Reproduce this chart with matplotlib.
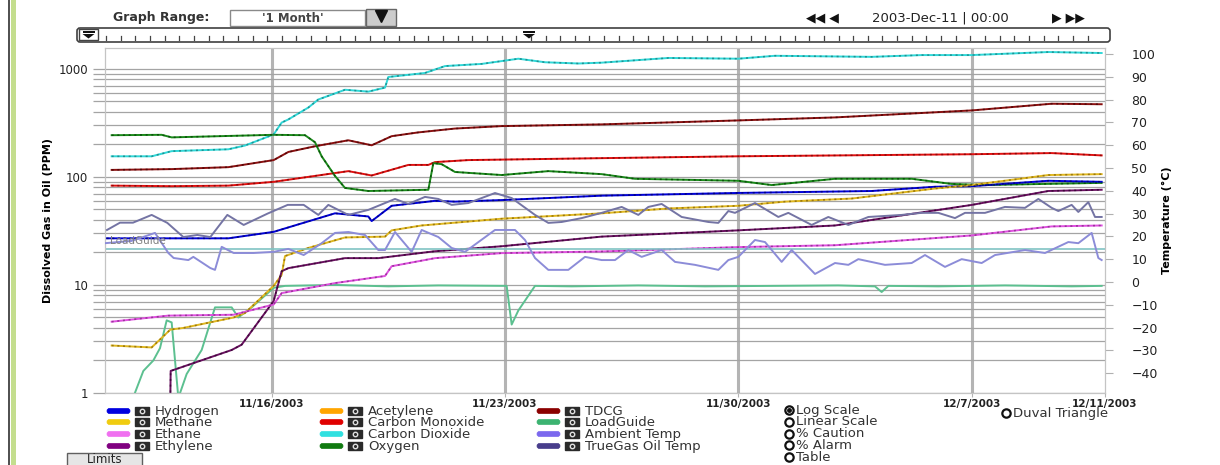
import matplotlib
import matplotlib.pyplot as plt
from matplotlib.patches import Rectangle, FancyBboxPatch, Polygon
from matplotlib.ticker import LogLocator, NullFormatter
import numpy as np

matplotlib.use('Agg')
plt.rcParams['font.family'] = ['DejaVu Sans']

W, H = 1220, 465

# ---- data (days since 11/11/2003 00:00) ----
co2_days = [0.2, 1.4, 2.0, 3.7, 4.2, 5.06, 5.3, 5.5, 6.1, 6.4, 7.2, 7.9, 8.4, 8.5, 9.6, 10.2,
            11.3, 12.4, 13.2, 14.2, 14.9, 16.9, 19.0, 20.1, 23.0, 24.5, 26.0, 28.3, 29.9]
co2_ppm = [155, 155, 173, 180, 195, 247, 318, 340, 438, 520, 640, 615, 670, 840, 915, 1060,
           1110, 1240, 1150, 1120, 1140, 1260, 1240, 1320, 1290, 1340, 1340, 1430, 1400]

tdcg_days = [0.2, 2.0, 3.7, 5.06, 5.5, 6.3, 7.3, 8.0, 8.6, 9.4, 10.5, 11.9, 14.9, 19.0, 21.9,
             26.0, 28.4, 29.9]
tdcg_ppm = [116, 118, 123, 143, 170, 192, 218, 196, 238, 258, 280, 295, 306, 333, 355, 412, 475, 470]

co_days = [0.2, 2.0, 3.7, 5.06, 6.1, 7.3, 8.0, 9.1, 9.7, 9.9, 10.9, 14.9, 19.0, 26.0, 28.4, 29.9]
co_ppm = [83, 82, 83, 90, 100, 113, 103, 129, 129, 137, 143, 149, 155, 162, 166, 158]

o2_days = [0.2, 1.7, 2.0, 5.06, 6.0, 6.3, 6.5, 6.9, 7.2, 7.9, 9.7, 9.85, 10.1, 10.5, 11.9, 13.3,
           14.9, 15.9, 19.0, 20.0, 21.9, 24.2, 25.4, 26.4, 29.9]
o2_ppm = [243, 245, 232, 245, 243, 209, 155, 102, 79, 74, 76, 134, 131, 111, 104, 113,
          106, 96, 92, 84, 96, 96, 86, 84, 88]

h2_days = [0.05, 3.7, 5.06, 6.9, 7.9, 8.0, 8.6, 9.9, 10.5, 11.9, 14.9, 19.0, 23.0, 24.9, 26.0,
           28.3, 29.9]
h2_ppm = [27, 27, 31, 46, 43, 39, 54, 60, 59, 61, 67, 71, 74, 81, 82, 92, 90]

ch4_days = [0.2, 1.4, 1.96, 2.35, 3.86, 4.2, 5.06, 5.3, 5.4, 6.1, 7.2, 8.4, 8.6, 9.5, 10.9, 11.9,
            14.9, 16.9, 19.0, 20.4, 22.4, 24.9, 26.0, 28.3, 29.9]
ch4_ppm = [2.75, 2.64, 3.86, 4.0, 5.0, 5.5, 9.8, 12.4, 18.5, 22, 27.5, 28, 32, 35.5, 38.6, 41,
           46, 51, 54, 59, 63, 78, 84, 104, 106]

c2h4_days = [1.96, 1.97, 3.8, 4.1, 5.06, 5.3, 5.5, 7.2, 8.2, 9.9, 11.9, 14.9, 19.0, 21.9, 23.9,
             26.0, 28.3, 29.9]
c2h4_ppm = [0.9, 1.6, 2.5, 2.8, 7.1, 13.4, 14.3, 17.7, 17.7, 20.5, 22.8, 28, 32, 35.5, 44,
            55, 74, 76]

c2h6_days = [0.2, 1.9, 3.86, 5.06, 5.3, 6.9, 8.4, 8.6, 9.9, 11.9, 14.9, 19.0, 21.9, 26.0, 28.4, 29.9]
c2h6_ppm = [4.57, 5.2, 5.3, 6.6, 8.4, 10.4, 12.1, 14.9, 17.7, 19.7, 20.4, 22.4, 23.3, 28.7, 34.8, 35.5]

lg_days = [0, 0.84, 1.15, 1.45, 1.65, 1.85, 2.0, 2.2, 2.45, 2.9, 3.3, 3.8, 4.0, 4.4, 5.06, 5.4,
           6.9, 8.5, 10, 12.05, 12.2, 12.4, 12.9, 14, 16, 18, 20, 22, 23.1, 23.3, 23.5, 25, 27,
           29, 29.9]
lg_ppm = [0.9, 0.9, 1.6, 2.0, 2.6, 4.7, 4.5, 0.9, 1.5, 2.5, 6.2, 6.2, 5.0, 6.2, 9.4, 9.8,
          10, 9.7, 9.9, 9.8, 4.3, 5.8, 9.8, 9.7, 9.9, 9.7, 9.8, 9.9, 9.7, 8.6, 9.8, 9.7, 9.9,
          9.7, 9.8]

oil_days = [0.06, 0.45, 0.84, 1.4, 1.87, 2.35, 2.77, 3.16, 3.67, 4.16, 4.88, 5.48, 5.96, 6.4,
            6.7, 7.3, 7.9, 8.7, 9.1, 9.6, 10.0, 10.4, 10.9, 11.7, 12.2, 12.9, 13.3, 13.7, 14.3,
            14.9, 15.5, 16.0, 16.3, 16.7, 17.3, 18.1, 18.4, 18.7, 18.9, 19.5, 20.2, 20.5, 21.2,
            21.7, 22.3, 22.9, 23.9, 24.5, 25.0, 25.5, 25.8, 26.4, 27.0, 27.6, 28.0, 28.4, 28.6,
            29.0, 29.2, 29.5, 29.7, 29.9]
oil_temp = [22.8, 26, 26, 29.4, 25.9, 19.7, 20.6, 19.7, 29.4, 25, 30, 33.8, 33.8, 29.4,
            33.8, 29.4, 31.6, 36.4, 34.2, 37.3, 36.4, 33.8, 34.6, 39, 36.8, 29.4, 25.9, 26.3, 28,
            30.3, 32.9, 29.4, 32.9, 34.2, 28.5, 26.3, 25.9, 31.1, 30.3, 34.6, 28.5, 30.3, 25,
            28.5, 25, 28.5, 29.4, 30.3, 30.3, 28, 30.3, 30.3, 32.9, 32.5, 36.4, 32.5, 31.1,
            33.8, 30.7, 35, 28.5, 28.5]

amb_days = [0, 0.8, 1.5, 1.9, 2.06, 2.5, 2.65, 3.16, 3.3, 3.5, 3.86, 4.46, 5.06, 5.5, 5.96,
            6.5, 6.9, 7.3, 7.8, 8.2, 8.4, 8.7, 9.2, 9.5, 10.0, 10.4, 10.8, 11.7, 12.3, 12.6,
            12.9, 13.3, 13.9, 14.4, 14.9, 15.3, 15.7, 16.1, 16.7, 17.1, 17.7, 18.4, 18.7, 19.0,
            19.5, 19.8, 20.3, 20.6, 21.3, 21.9, 22.3, 22.6, 23.4, 24.2, 24.6, 25.2, 25.7, 26.3,
            26.7, 27.6, 28.2, 28.9, 29.2, 29.6, 29.8, 29.9]
amb_temp = [17, 18, 21.5, 12.7, 10.5, 9.6, 11, 6.1, 5.3, 15.4, 12.7, 12.7, 13.2, 14.5, 11.8,
            17, 21.5, 21.9, 20.6, 14, 14, 21.9, 13.2, 22.8, 19.7, 14.9, 13.2, 22.8, 22.8, 18.4,
            10.5, 5.3, 5.3, 11, 9.6, 9.6, 14, 11, 14, 8.8, 7.5, 5.3, 9.6, 11, 18.4,
            17.5, 8.8, 14, 3.5, 8.3, 7.5, 10, 7.5, 8.3, 11.8, 6.6, 10, 8.3, 11.8, 14,
            12.7, 17.5, 17, 21.5, 10.5, 9.6]

loadguide_limit = 14.5

date_ticks = [5, 12, 19, 26, 30]
date_labels = ["11/16/2003", "11/23/2003", "11/30/2003", "12/7/2003", "12/11/2003"]

legend_cols = [["Hydrogen", "Methane", "Ethane", "Ethylene"],
               ["Acetylene", "Carbon Monoxide", "Carbon Dioxide", "Oxygen"],
               ["TDCG", "LoadGuide", "Ambient Temp", "TrueGas Oil Temp"]]
legend_colors = [["#0000e0", "#f0cc10", "#f070f0", "#800080"],
                 ["#ffa500", "#e00000", "#30e0e0", "#107a10"],
                 ["#8b0000", "#3cb371", "#7b68ee", "#483d8b"]]
radio_labels = ["Log Scale", "Linear Scale", "% Caution", "% Alarm", "Table"]

# ---- figure ----
fig = plt.figure(figsize=(W / 100, H / 100), dpi=100)

ui = fig.add_axes([0, 0, 1, 1], zorder=-1)
ui.set_xlim(0, W)
ui.set_ylim(H, 0)
ui.axis('off')

ax = fig.add_axes([105 / W, 1 - 393 / H, 1000 / W, 345 / H])
ax2 = ax.twinx()

gas_lines = [
    (co2_days, co2_ppm, "#30d8d8", "#106868"),
    (tdcg_days, tdcg_ppm, "#8b1010", "#300000"),
    (co_days, co_ppm, "#e01010", "#600000"),
    (o2_days, o2_ppm, "#1a8a1a", "#003000"),
    (h2_days, h2_ppm, "#0000d8", "#000050"),
    (ch4_days, ch4_ppm, "#e0b820", "#705000"),
    (c2h4_days, c2h4_ppm, "#6a1060", "#200020"),
    (c2h6_days, c2h6_ppm, "#e050e0", "#702070"),
]
ax.plot(lg_days, lg_ppm, color="#5cc090", lw=1.4, zorder=3)
for days, vals, c, dark in gas_lines:
    ax.plot(days, vals, color=c, lw=1.4, zorder=4)
    ax.plot(days, vals, color=dark, lw=1.2, ls=(0, (1.2, 2.2)), alpha=0.6, zorder=5)

ax.set_yscale('log')
ax.set_ylim(1, 1558)
ax.set_xlim(0, 30)
ax.set_yticks([1, 10, 100, 1000])
ax.set_yticklabels(["1", "10", "100", "1000"])
ax.yaxis.set_minor_locator(LogLocator(base=10, subs=np.arange(2, 10)))
ax.yaxis.set_minor_formatter(NullFormatter())
ax.grid(True, axis='y', which='both', color='#a4a4a4', lw=0.9)
ax.tick_params(axis='y', which='both', length=9, color='#a4a4a4', width=0.9,
               labelsize=8.5, labelcolor='#222222', pad=3)
for d in date_ticks[:-1]:
    ax.axvline(d, color='#b4b4b4', lw=2.2, zorder=1)
ax.set_xticks(date_ticks)
ax.set_xticklabels(date_labels, fontsize=7.5, fontweight='bold', color='#222222')
ax.tick_params(axis='x', length=3, color='#b4b4b4', pad=1)
ax.set_ylabel("Dissolved Gas in Oil (PPM)", fontsize=8, fontweight='bold', labelpad=4)

ax2.plot(oil_days, oil_temp, color="#7474a4", lw=1.4, zorder=3)
ax2.plot(amb_days, amb_temp, color="#8c8cd8", lw=1.4, zorder=3)
ax2.axhline(loadguide_limit, color="#80c4c4", lw=1.2, zorder=2)
ax2.text(0.15, loadguide_limit + 1.2, "LoadGuide", fontsize=7.5, color='#808080', va='bottom')
ax2.set_ylim(-48.7, 102.6)
ax2.set_yticks(range(-40, 101, 10))
ax2.tick_params(axis='y', length=6, color='#b0b0b0', labelsize=9, labelcolor='#222222', pad=13)
ax2.set_ylabel("Temperature (°C)", fontsize=8, fontweight='bold', labelpad=3)

for a in (ax, ax2):
    for s in a.spines.values():
        s.set_color('#c4c4c4')

# ---- legend area ----
col_x = [107, 320, 537]
row_y = [411, 422, 434, 446]
for ci, (names, colors) in enumerate(zip(legend_cols, legend_colors)):
    for ri, (name, c) in enumerate(zip(names, colors)):
        x0, y0 = col_x[ci], row_y[ri]
        ui.add_patch(FancyBboxPatch((x0, y0 - 2.5), 23, 5, boxstyle="round,pad=0,rounding_size=2.5",
                                    fc=c, ec=c, lw=0.5))
        ui.add_patch(Rectangle((x0 + 28, y0 - 4), 14, 8, fc='#2a2a2a', ec='#2a2a2a'))
        ui.plot([x0 + 35], [y0], marker='o', ms=3.2, mfc='none', mec='#e0e0e0', mew=1)
        ui.text(x0 + 48, y0, name, fontsize=9.5, color='#333333', va='center')

for i, lab in enumerate(radio_labels):
    y0 = 410 + i * 11.8
    ui.plot([789], [y0], marker='o', ms=6, mfc='white', mec='#111111', mew=1.6)
    ui.text(796, y0, lab, fontsize=9.5, color='#333333', va='center')
ui.plot([789], [410], marker='o', ms=2.5, color='#111111')
ui.plot([1006], [413], marker='o', ms=6, mfc='white', mec='#111111', mew=1.6)
ui.text(1013, 413, "Duval Triangle", fontsize=9.5, color='#333333', va='center')

ui.add_patch(Rectangle((67, 453), 75, 15, fc='#e6e6e6', ec='#606060', lw=1))
ui.text(104.5, 459.5, "Limits", fontsize=8.5, color='#222222', ha='center', va='center')

# ---- top controls ----
ui.plot([9, 9], [0, H], color='#303030', lw=1.2)
ui.add_patch(Rectangle((11, 0), 5, H, fc='#c4de8e', ec='none'))

ui.text(113, 18, "Graph Range:", fontsize=9, fontweight='bold', color='#333333', va='center')
ui.add_patch(Rectangle((230, 10), 135, 16, fc='white', ec='#8a8a8a', lw=1))
ui.text(262, 18, "'1 Month'", fontsize=8.5, fontweight='bold', color='#444444', va='center')
ui.add_patch(Rectangle((366, 9), 30, 17, fc='#cccccc', ec='#666666', lw=1))
ui.plot([381], [16.5], marker='v', ms=8, color='#111111')

ui.text(806, 18, "◀◀ ◀", fontsize=9, color='#111111', va='center')
ui.text(872, 18, "2003-Dec-11 | 00:00", fontsize=9.5, color='#222222', va='center')
ui.text(1052, 18, "▶ ▶▶", fontsize=9, color='#111111', va='center')

ui.add_patch(FancyBboxPatch((77, 28), 1033, 14, boxstyle="round,pad=0,rounding_size=3",
                            fc='white', ec='#404040', lw=1.2))
for tx in np.arange(106, 1100, 14.65):
    ui.plot([tx, tx], [36.5, 40], color='#444444', lw=0.9)
ui.add_patch(Rectangle((79, 29.5), 19, 11, fc='white', ec='#444444', lw=1))
for hx in (88.5, 529):
    ui.add_patch(Rectangle((hx - 6, 31), 12, 2.5, fc='#111111', ec='none'))
    ui.add_patch(Polygon([[hx - 6, 34], [hx + 6, 34], [hx, 38.5]], closed=True,
                         fc='#111111', ec='none'))

fig.savefig('out.png', dpi=100)
